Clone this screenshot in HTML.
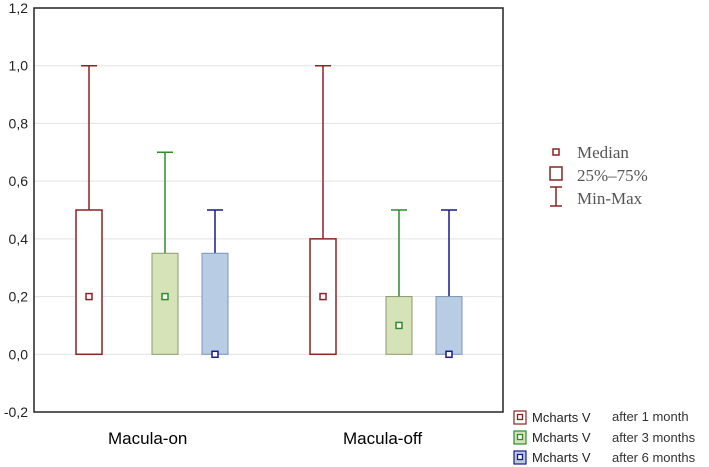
<!DOCTYPE html>
<html><head><meta charset="utf-8"><style>
body{margin:0;background:#fff;width:709px;height:467px;overflow:hidden}
svg{display:block}
text{font-family:"Liberation Sans",sans-serif}
text.serif{font-family:"Liberation Serif",serif}
</style></head><body>
<svg id="c" width="709" height="467">
<g id="grid"></g>
<g id="marks"></g>
<g id="axis"></g>
<rect x="34" y="8" width="469" height="404" fill="none" stroke="#222" stroke-width="1.5"/>
<text x="108" y="444" font-size="17">Macula-on</text>
<text x="343" y="444" font-size="17">Macula-off</text>
<g>
<rect x="553" y="149" width="6" height="6" fill="none" stroke="#8b2323" stroke-width="1.5"/>
<text class="serif" x="577" y="158" font-size="17" fill="#555">Median</text>
<rect x="550" y="167" width="12" height="13" fill="none" stroke="#8b2323" stroke-width="1.5"/>
<text class="serif" x="577" y="181" font-size="17" fill="#555">25%–75%</text>
<path d="M550 187H562M556 187V206M550 206H562" stroke="#8b2323" stroke-width="1.5" fill="none"/>
<text class="serif" x="577" y="204" font-size="17" fill="#555">Min-Max</text>
</g>
<g id="leg"></g>
</svg>
<script>
const groups=["Macula-on","Macula-off"];
const seriesNames=["after 1 month","after 3 months","after 6 months"];
const mins=[[0,0,0],[0,0,0]];
const q1=[[0,0,0],[0,0,0]];
const medians=[[0.2,0.2,0],[0.2,0.1,0]];
const q3=[[0.5,0.35,0.35],[0.4,0.2,0.2]];
const maxs=[[1.0,0.7,0.5],[1.0,0.5,0.5]];
const ticks=[-0.2,0,0.2,0.4,0.6,0.8,1.0,1.2];
const tickLabels=["-0,2","0,0","0,2","0,4","0,6","0,8","1,0","1,2"];
const stroke=["#8b2323","#2e8b2e","#1a1a8b"];
const fill=["#fff","#d6e3b8","#b8cce4"];
const boxStroke=["#8b2323","#8a9a6a","#7a94b8"];
const NS="http://www.w3.org/2000/svg";
const y=v=>354.3-(v)*288.6;
function X(g,s){return [89,323][g]+[0,76,126][s];}
function mk(t,a,p){const e=document.createElementNS(NS,t);for(const k in a)e.setAttribute(k,a[k]);p.appendChild(e);return e;}
const grid=document.getElementById('grid'),axis=document.getElementById('axis'),marks=document.getElementById('marks'),leg=document.getElementById('leg');
ticks.forEach((t,i)=>{
 if(i>0&&i<ticks.length-1){const l=mk('line',{x1:34,x2:503,y1:y(t),y2:y(t),stroke:'#e2e2e2','stroke-width':1},grid);
 }
 const tx=mk('text',{x:28,y:y(t)+5,'font-size':14,'text-anchor':'end',fill:'#222'},axis);tx.textContent=tickLabels[i];
 
});
groups.forEach((g,gi)=>{seriesNames.forEach((s,si)=>{
 const cx=X(gi,si),w=26;
 const wh=mk('path',{d:`M${cx} ${y(q3[gi][si])}V${y(maxs[gi][si])}M${cx-8} ${y(maxs[gi][si])}H${cx+8}`,stroke:stroke[si],'stroke-width':1.5,fill:'none'},marks);
 
 const b=mk('rect',{x:cx-w/2,y:y(q3[gi][si]),width:w,height:y(q1[gi][si])-y(q3[gi][si]),fill:fill[si],stroke:si==0?stroke[0]:boxStroke[si],'stroke-width':si==0?1.5:1},marks);
 
 const m=mk('rect',{x:cx-3,y:y(medians[gi][si])-3,width:6,height:6,fill:'#fff',stroke:stroke[si],'stroke-width':1.5},marks);
 
});});
seriesNames.forEach((s,i)=>{
 const yy=412+i*20;
 const r=mk('rect',{x:514,y:yy-1,width:12,height:13,fill:fill[i],stroke:stroke[i],'stroke-width':1.2},leg);
 
 mk('rect',{x:517.5,y:yy+2.5,width:5,height:5,fill:'#fff',stroke:stroke[i],'stroke-width':1.3},leg);
 const t=mk('text',{x:532,y:yy+10,'font-size':13,fill:'#222'},leg);t.textContent='Mcharts V';
 
 const t2=mk('text',{x:612,y:yy+9+(i>0?1:0),'font-size':13,fill:'#333'},leg);t2.textContent=s;
 
});
</script>
</body></html>
